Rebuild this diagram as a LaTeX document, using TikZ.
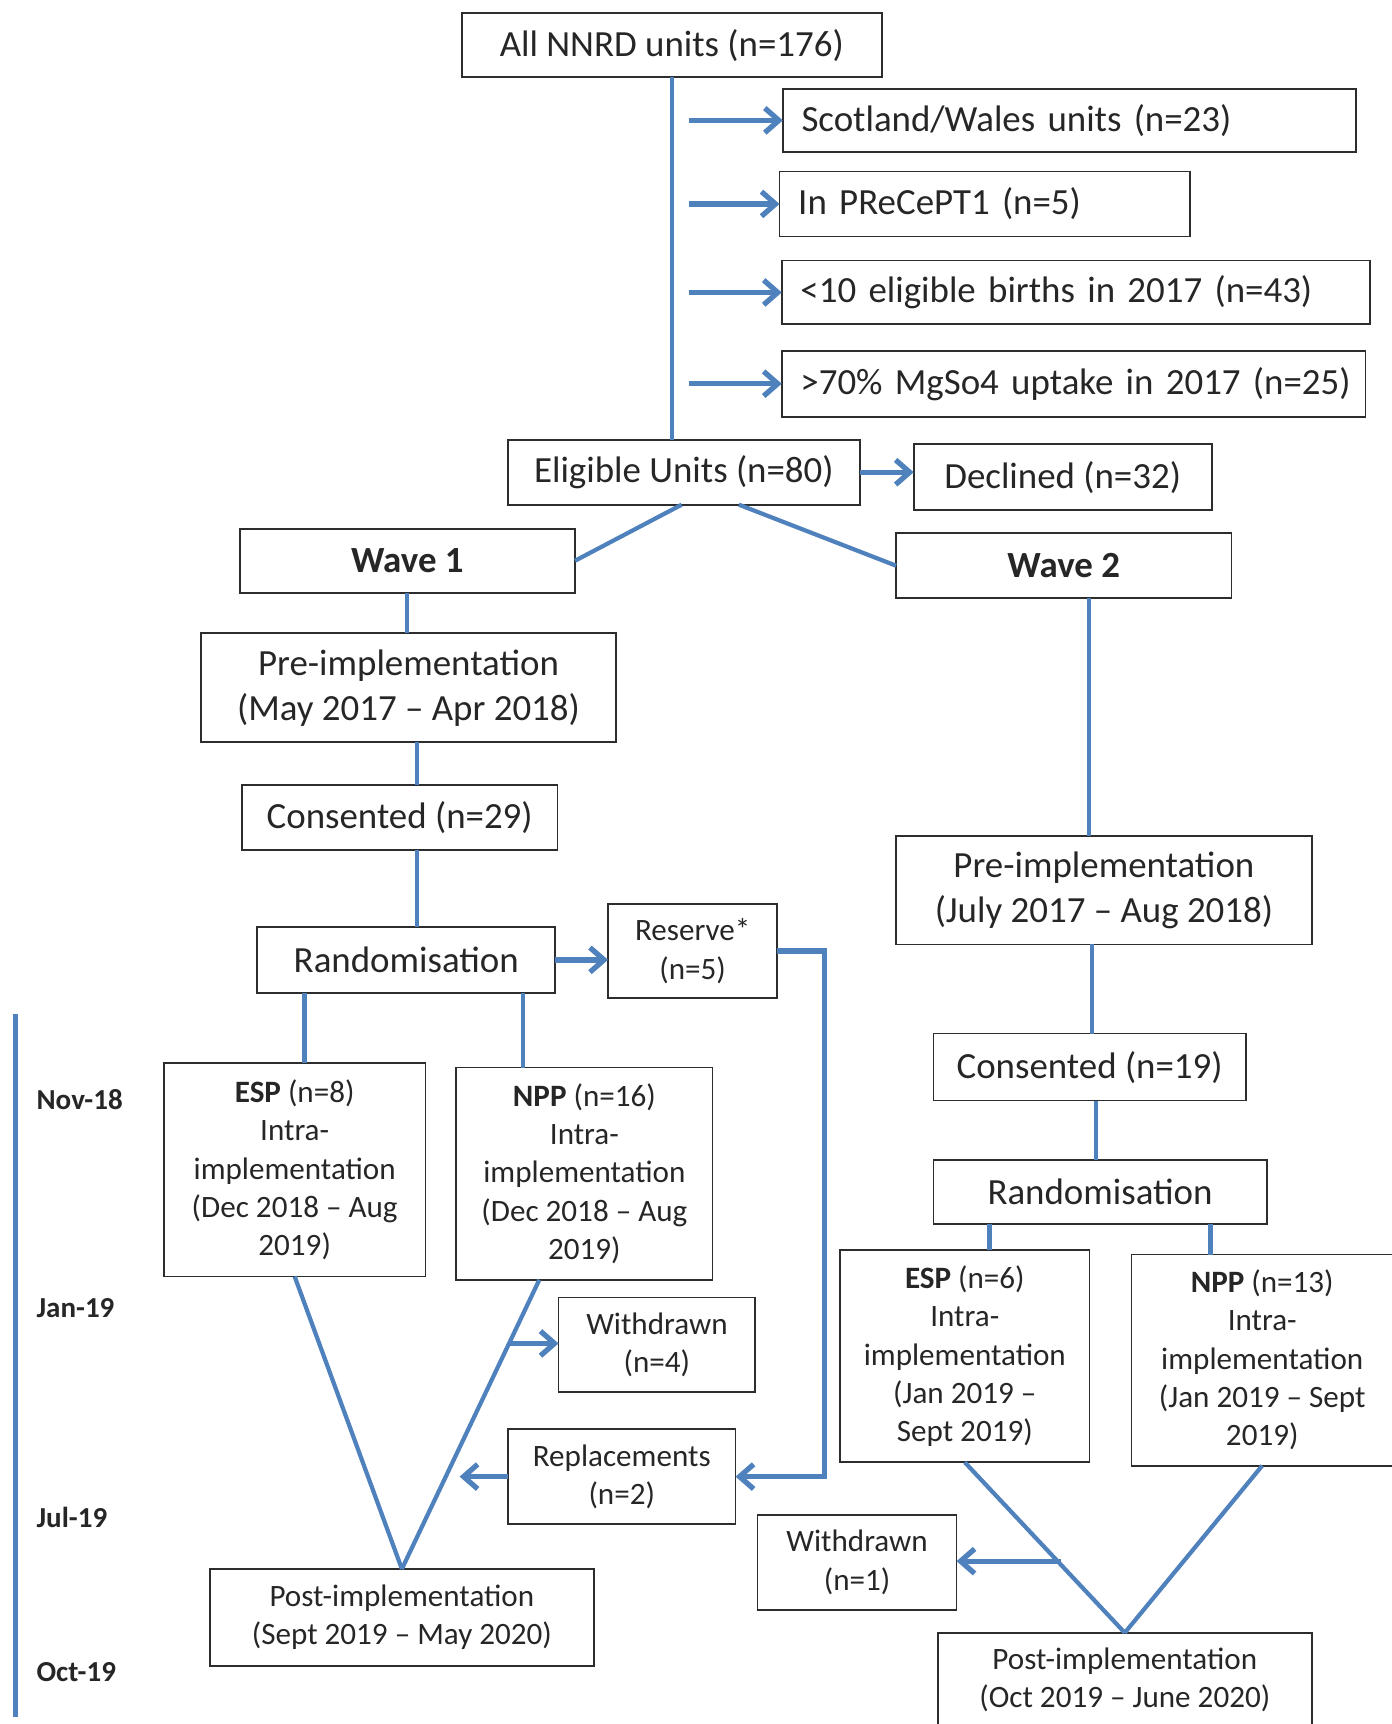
\documentclass[tikz,border=0pt]{standalone}
\usepackage{fontspec}
\setmainfont{Carlito}
\usetikzlibrary{arrows.meta,calc}
\definecolor{linkblue}{RGB}{79,129,189}
\definecolor{boxgray}{RGB}{45,45,45}
\newcommand\bigtxt{\fontsize{21}{25.6}\selectfont}
\newcommand\smalltxt{\fontsize{17.7}{21.8}\selectfont}
\newcommand\tltxt{\fontsize{16.5}{20}\selectfont\bfseries}
\tikzset{
	box/.style={draw=boxgray, line width=1pt, inner sep=0pt, outer sep=0pt, align=center, text=black!85, font=\bigtxt},
	sbox/.style={box, font=\smalltxt},
	wh/.style 2 args={minimum width=#1*0.02199cm, minimum height=#2*0.02199cm},
	link/.style={draw=linkblue, line width=2.4pt},
	arr/.style={link, line width=3pt, -{Straight Barb[length=8pt,width=14pt]}}
}
\begin{document}
\begin{tikzpicture}[x=0.02199cm, y=-0.02199cm]
	\useasboundingbox (0,0) rectangle (1266,1568);
	
	% screening
	\node[box, wh={382}{58}] (all) at (611,41) {All NNRD units (n=176)};
	\foreach \n/\cx/\cy/\w/\h/\t in {scot/972.5/109.5/521/57/{Scotland/Wales units (n=23)}, prec/895.5/185.5/373/59/{In PReCePT1 (n=5)}, less/978.5/266/535/58/{<10 eligible births in 2017 (n=43)}, more/976.5/349/531/60/{>70\% MgSo4 uptake in 2017 (n=25)}}
	{
		\pgfmathsetmacro\tw{(\w-34)*0.02199}
		\node[box, wh={\w}{\h}, text width=\tw cm, align=left] (\n) at (\cx,\cy) {\mbox{\t}};
	}
	\node[box, wh={320}{59}] (elig) at (622,429.5) {Eligible Units (n=80)};
	\node[box, wh={271}{60}] (decl) at (966.5,434) {Declined (n=32)};
	\node[box, wh={305}{58}, font=\bigtxt\bfseries] (wave1) at (370.5,510) {Wave 1};
	\node[box, wh={305}{59}, font=\bigtxt\bfseries] (wave2) at (967.5,514.5) {Wave 2};
	
	% wave 1
	\node[box, wh={377}{99}] (pre1) at (371.5,625.5) {Pre-implementation\\(May 2017 \textendash{} Apr 2018)};
	\node[box, wh={287}{59}] (cons1) at (363.5,743.5) {Consented (n=29)};
	\node[box, wh={271}{60}] (rand1) at (369.5,873) {Randomisation};
	\node[sbox, wh={154}{86}] (res) at (630,865) {Reserve*\\(n=5)};
	\node[sbox, wh={238}{194}] (esp1) at (268,1064) {\textbf{ESP} (n=8)\\Intra-\\implementation\\(Dec 2018 \textendash{} Aug\\2019)};
	\node[sbox, wh={233}{193}] (npp1) at (531.5,1067.5) {\textbf{NPP} (n=16)\\Intra-\\implementation\\(Dec 2018 \textendash{} Aug\\2019)};
	\node[sbox, wh={179}{86}] (wd1) at (597.5,1223) {Withdrawn\\(n=4)};
	\node[sbox, wh={207}{86}] (repl) at (565.5,1343) {Replacements\\(n=2)};
	\node[sbox, wh={349}{88}] (post1) at (365.5,1471) {Post-implementation\\(Sept 2019 \textendash{} May 2020)};
	
	% wave 2
	\node[box, wh={378}{99}] (pre2) at (1004,809.5) {Pre-implementation\\(July 2017 \textendash{} Aug 2018)};
	\node[box, wh={284}{61}] (cons2) at (991,970.5) {Consented (n=19)};
	\node[box, wh={303}{58}] (rand2) at (1000.5,1084) {Randomisation};
	\node[sbox, wh={227}{193}] (esp2) at (877.5,1233.5) {\textbf{ESP} (n=6)\\Intra-\\implementation\\(Jan 2019 \textendash\\Sept 2019)};
	\node[sbox, wh={238}{192}] (npp2) at (1148,1237) {\textbf{NPP} (n=13)\\Intra-\\implementation\\(Jan 2019 \textendash{} Sept\\2019)};
	\node[sbox, wh={181}{86}] (wd2) at (779.5,1421) {Withdrawn\\(n=1)};
	\node[sbox, wh={340}{86}] (post2) at (1023,1528) {Post-implementation\\(Oct 2019 \textendash{} June 2020)};
	
	% timeline
	\coordinate (ttop) at (14,922);
	\coordinate (tbot) at (14,1562);
	\draw[link, line width=3pt] (ttop) -- (tbot);
	\foreach \m/\y in {Nov-18/1000, Jan-19/1190, Jul-19/1380, Oct-19/1521}
		\node[anchor=west, inner sep=0pt, text=black!85, font=\tltxt] (t\m) at (33,\y) {\m};
	
	% connectors
	\coordinate (trunk) at ($(all.south)+(16,0)$);
	\draw[link] (all.south) -- (all.south |- elig.north);
	\foreach \n in {scot,prec,less,more}
		\draw[arr] (trunk |- \n.west) -- (\n.west);
	\draw[arr] (elig.east) -- (decl.west |- elig.east);
	\draw[link] ($(elig.south)+(-2,0)$) -- (wave1.east);
	\draw[link] ($(elig.south)+(50,0)$) -- (wave2.west);
	
	\draw[link] (wave1.south) -- (wave1.south |- pre1.north);
	\draw[link] ($(pre1.south)+(8,0)$) coordinate (p1) -- (p1 |- cons1.north);
	\draw[link] ($(cons1.south)+(16,0)$) coordinate (c1) -- (c1 |- rand1.north);
	\draw[arr] (rand1.east) -- (rand1.east -| res.west);
	\draw[arr] (res.east) -- ++(43,0) |- (repl.east);
	\draw[link] ($(rand1.south west)+(43,0)$) coordinate (r1a) -- (r1a |- esp1.north);
	\draw[link] ($(rand1.south east)+(-29,0)$) coordinate (r1b) -- (r1b |- npp1.north);
	\draw[link] (esp1.south) -- (post1.north);
	\draw[link] ($(npp1.south)+(-41,0)$) coordinate (n1) -- (post1.north);
	\coordinate (w1) at ($(n1)!0.22!(post1.north)$);
	\draw[arr] (w1) -- (w1 -| wd1.west);
	\draw[arr] (repl.west) -- ++(-44,0) coordinate (rtip);
	
	\draw[link] ($(wave2.south)+(23,0)$) coordinate (v2) -- (v2 |- pre2.north);
	\draw[link] ($(pre2.south)+(-11,0)$) coordinate (p2) -- (p2 |- cons2.north);
	\draw[link] ($(cons2.south)+(6,0)$) coordinate (c2) -- (c2 |- rand2.north);
	\draw[link] ($(rand2.south west)+(51,0)$) coordinate (r2a) -- (r2a |- esp2.north);
	\draw[link] ($(rand2.south east)+(-51,0)$) coordinate (r2b) -- (r2b |- npp2.north);
	\draw[link] (esp2.south) -- (post2.north);
	\draw[link] (npp2.south) -- (post2.north);
	\coordinate (w2) at ($(esp2.south)!0.58!(post2.north)$);
	\draw[arr] ($(w2)+(3,0)$) -- (w2 -| wd2.east);
	
\end{tikzpicture}
\end{document}
